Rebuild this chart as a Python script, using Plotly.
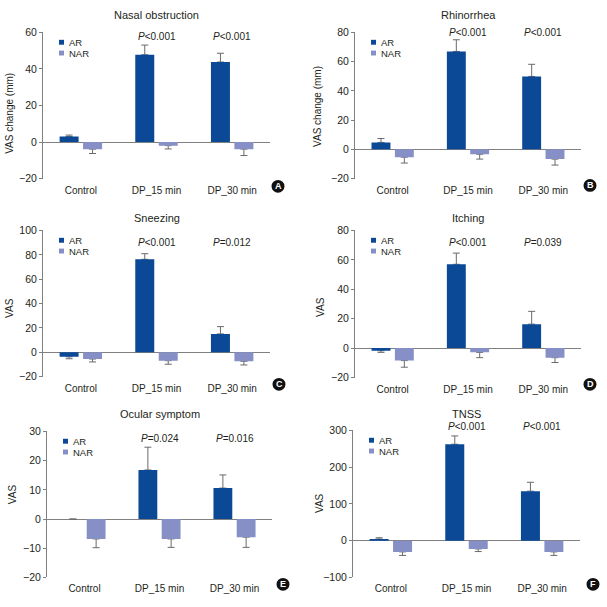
import plotly.graph_objects as go

# ---------------- data ----------------
categories = ["Control", "DP_15 min", "DP_30 min"]
series_names = ["AR", "NAR"]

panel_titles = ["Nasal obstruction", "Rhinorrhea", "Sneezing", "Itching", "Ocular symptom", "TNSS"]
panel_letters = ["A", "B", "C", "D", "E", "F"]
y_titles = ["VAS change (mm)", "VAS change (mm)", "VAS", "VAS", "VAS", "VAS"]

nasal_ar = [3.0, 47.8, 43.8]
nasal_ar_err = [0.8, 5.3, 4.8]
nasal_nar = [-3.9, -2.0, -3.9]
nasal_nar_err = [2.4, 1.8, 3.5]

rhino_ar = [4.7, 67.0, 49.9]
rhino_ar_err = [2.7, 8.0, 8.3]
rhino_nar = [-5.4, -3.4, -6.7]
rhino_nar_err = [4.0, 3.3, 4.1]

sneeze_ar = [-3.8, 76.3, 15.0]
sneeze_ar_err = [1.6, 4.6, 6.0]
sneeze_nar = [-5.6, -7.0, -7.5]
sneeze_nar_err = [2.4, 2.9, 3.0]

itch_ar = [-1.8, 57.0, 16.3]
itch_ar_err = [1.1, 7.6, 8.7]
itch_nar = [-8.5, -2.9, -6.5]
itch_nar_err = [4.5, 3.6, 3.3]

ocular_ar = [0.0, 16.8, 10.6]
ocular_ar_err = [0.0, 7.8, 4.5]
ocular_nar = [-6.8, -6.8, -6.2]
ocular_nar_err = [3.0, 2.9, 3.5]

tnss_ar = [4.5, 262.5, 134.8]
tnss_ar_err = [3.5, 22.5, 24.2]
tnss_nar = [-30.4, -22.3, -30.4]
tnss_nar_err = [9.6, 7.2, 9.6]

p_labels = [
    ["<i>P</i>&lt;0.001", "<i>P</i>&lt;0.001"],
    ["<i>P</i>&lt;0.001", "<i>P</i>&lt;0.001"],
    ["<i>P</i>&lt;0.001", "<i>P</i>=0.012"],
    ["<i>P</i>&lt;0.001", "<i>P</i>=0.039"],
    ["<i>P</i>=0.024", "<i>P</i>=0.016"],
    ["<i>P</i>&lt;0.001", "<i>P</i>&lt;0.001"],
]

y_ranges = [[-20, 60], [-20, 80], [-20, 100], [-20, 80], [-20, 30], [-100, 300]]
y_dticks = [20, 20, 20, 20, 10, 100]

series_data = [
    (nasal_ar, nasal_ar_err, nasal_nar, nasal_nar_err),
    (rhino_ar, rhino_ar_err, rhino_nar, rhino_nar_err),
    (sneeze_ar, sneeze_ar_err, sneeze_nar, sneeze_nar_err),
    (itch_ar, itch_ar_err, itch_nar, itch_nar_err),
    (ocular_ar, ocular_ar_err, ocular_nar, ocular_nar_err),
    (tnss_ar, tnss_ar_err, tnss_nar, tnss_nar_err),
]

# ---------------- styling / geometry (pixels) ----------------
W = H = 607
AR_COLOR = "#0b4896"
NAR_COLOR = "#8690c6"
AXIS_COLOR = "#808080"
ERR_COLOR = "#6a6a6a"
TEXT_COLOR = "#231f20"
FONT = "Liberation Sans, Arial, sans-serif"

# plot-area boxes: (x0, x1, ytop, ybottom)
boxes = [
    (43, 270, 27, 176),
    (355, 581, 27, 176),
    (43, 270, 229, 378),
    (355, 581, 229, 379),
    (47, 272, 434, 583),
    (353, 580, 433, 583),
]
title_y = [9, 9, 216, 216, 416, 416]
p_y = [31, 27, 241, 241, 441, 429]
ytitle_pos = [(10, 110), (318, 103), (10, 308), (321, 307), (12, 498), (320, 507)]
badge_pos = [(278, 184), (590, 183), (279, 386), (590, 386), (283, 590), (593, 590)]


def fx(p):
    return p / W


def fy(p):
    return 1 - p / H


def split_err(vals, errs):
    up = [e if v >= 0 else 0 for v, e in zip(vals, errs)]
    down = [e if v < 0 else 0 for v, e in zip(vals, errs)]
    return up, down


fig = go.Figure()
layout = dict(
    width=W, height=H,
    margin=dict(l=0, r=0, t=0, b=0),
    paper_bgcolor="white", plot_bgcolor="white",
    barmode="group", bargap=0.38, bargroupgap=0.19,
    showlegend=False,
    font=dict(family=FONT, size=10, color=TEXT_COLOR),
)
annotations = []
shapes = []

for i in range(6):
    n = "" if i == 0 else str(i + 1)
    xa, ya = "x" + n, "y" + n
    x0, x1, yt, yb = boxes[i]
    ar, ar_err, nar, nar_err = series_data[i]

    for name, vals, errs, color in [("AR", ar, ar_err, AR_COLOR), ("NAR", nar, nar_err, NAR_COLOR)]:
        up, down = split_err(vals, errs)
        # error bars (drawn first, so the bar covers the lower end)
        fig.add_trace(go.Bar(
            x=categories, y=vals, xaxis=xa, yaxis=ya, offsetgroup=name,
            marker=dict(color="rgba(0,0,0,0)", line=dict(width=0)),
            error_y=dict(type="data", symmetric=False, array=up, arrayminus=down,
                         color=ERR_COLOR, thickness=1, width=3.5),
            hoverinfo="skip", showlegend=False,
        ))
        fig.add_trace(go.Bar(
            x=categories, y=vals, xaxis=xa, yaxis=ya, offsetgroup=name, name=name,
            marker=dict(color=color, line=dict(width=0)),
            showlegend=False,
        ))

    layout["xaxis" + n] = dict(
        domain=[fx(x0), fx(x1)], anchor=ya, type="category",
        range=[-0.5, 2.5], showline=False, showgrid=False, zeroline=False,
        ticks="", ticklabelstandoff=4, tickfont=dict(size=10, color=TEXT_COLOR),
        fixedrange=True,
    )
    layout["yaxis" + n] = dict(
        domain=[fy(yb), fy(yt)], anchor=xa, range=y_ranges[i], dtick=y_dticks[i],
        showline=True, linecolor=AXIS_COLOR, linewidth=1,
        ticks="outside", ticklen=3, tickcolor=AXIS_COLOR, tickwidth=1,
        showgrid=False, zeroline=True, zerolinecolor=AXIS_COLOR, zerolinewidth=1,
        tickfont=dict(size=10.5, color=TEXT_COLOR), fixedrange=True,
    )

    # panel title
    annotations.append(dict(
        text=panel_titles[i], xref="paper", yref="paper",
        x=fx((x0 + x1) / 2), y=fy(title_y[i]), xanchor="center", yanchor="middle",
        showarrow=False, font=dict(size=11, color=TEXT_COLOR),
    ))
    # y-axis title
    annotations.append(dict(
        text=y_titles[i], xref="paper", yref="paper", textangle=-90,
        x=fx(ytitle_pos[i][0]), y=fy(ytitle_pos[i][1]), xanchor="center", yanchor="middle",
        showarrow=False, font=dict(size=10, color=TEXT_COLOR),
    ))
    # P values
    for k, cat in enumerate(categories[1:]):
        annotations.append(dict(
            text=p_labels[i][k], xref=xa, yref="paper", x=cat, y=fy(p_y[i]),
            xanchor="center", yanchor="middle", showarrow=False,
            font=dict(size=10, color=TEXT_COLOR),
        ))
    # legend
    for j, (nm, col) in enumerate(zip(series_names, [AR_COLOR, NAR_COLOR])):
        cy = yt + 10 + 11 * j
        sx = x0 + 16
        shapes.append(dict(
            type="rect", xref="paper", yref="paper",
            x0=fx(sx), x1=fx(sx + 5), y0=fy(cy + 2.5), y1=fy(cy - 2.5),
            fillcolor=col, line=dict(width=0),
        ))
        annotations.append(dict(
            text=nm, xref="paper", yref="paper", x=fx(sx + 8), y=fy(cy),
            xanchor="left", yanchor="middle", showarrow=False,
            font=dict(size=9.5, color=TEXT_COLOR),
        ))
    # badge
    bx, by = badge_pos[i]
    r = 6.5
    shapes.append(dict(
        type="circle", xref="paper", yref="paper",
        x0=fx(bx - r), x1=fx(bx + r), y0=fy(by + r), y1=fy(by - r),
        fillcolor="#111111", line=dict(width=0),
    ))
    annotations.append(dict(
        text="<b>" + panel_letters[i] + "</b>", xref="paper", yref="paper",
        x=fx(bx), y=fy(by), xanchor="center", yanchor="middle", showarrow=False,
        font=dict(size=9, color="white"),
    ))

layout["annotations"] = annotations
layout["shapes"] = shapes
fig.update_layout(**layout)
fig.write_html(
    "out.html",
    config={"displayModeBar": False, "staticPlot": True},
    post_script="document.body.style.margin='0';document.body.style.overflow='hidden';",
)
